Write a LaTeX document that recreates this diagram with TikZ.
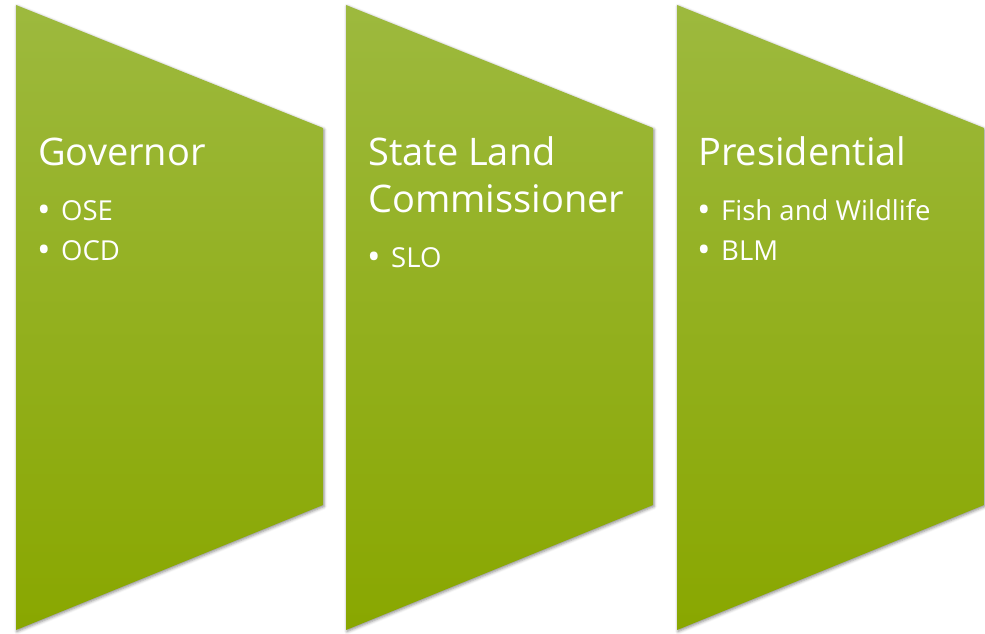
\documentclass[tikz,border=0pt]{standalone}
\usepackage{fontspec}
\setmainfont{Open Sans}
\usetikzlibrary{shadows.blur}
\definecolor{leaftop}{RGB}{157,185,62}
\definecolor{leafmid}{RGB}{146,177,6}
\definecolor{leafbot}{RGB}{137,167,0}
\newcommand{\dotitem}{\makebox[24pt][l]{\raisebox{-2.5pt}{\fontsize{36}{36}\selectfont•}}}
\tikzset{
  tag/.style={top color=leaftop, middle color=leafmid, bottom color=leafbot,
    blur shadow={shadow xshift=1pt, shadow yshift=-1.5pt, shadow blur radius=3pt, shadow opacity=45}},
  head/.style={anchor=base west, text=white, inner sep=0pt, font=\fontsize{38}{46}\selectfont},
  item/.style={anchor=base west, text=white, inner sep=0pt, font=\fontsize{27.5}{30}\selectfont},
}
\begin{document}
\begin{tikzpicture}[x=1pt, y=-1pt]
\useasboundingbox (0,0) rectangle (985,634);

% the three tags
\foreach \x in {16,346,677} {
  \path[tag] (\x,5) -- ++(307,123) -- ++(0,377) -- ++(-307,125) -- cycle;
}

% Governor
\node[head] (gov) at (38,165) {Governor};
\node[item] (ose) at (37,220) {\dotitem OSE};
\node[item] (ocd) at (37,260) {\dotitem OCD};

% State Land Commissioner
\node[head] (slc) at (368,165) {State Land};
\node[head] (slc2) at (368,212) {Commissioner};
\node[item] (slo) at (367,267) {\dotitem SLO};

% Presidential
\node[head] (pres) at (698,165) {Presidential};
\node[item] (fws) at (697,220) {\dotitem Fish and Wildlife};
\node[item] (blm) at (697,260) {\dotitem BLM};
\end{tikzpicture}
\end{document}
